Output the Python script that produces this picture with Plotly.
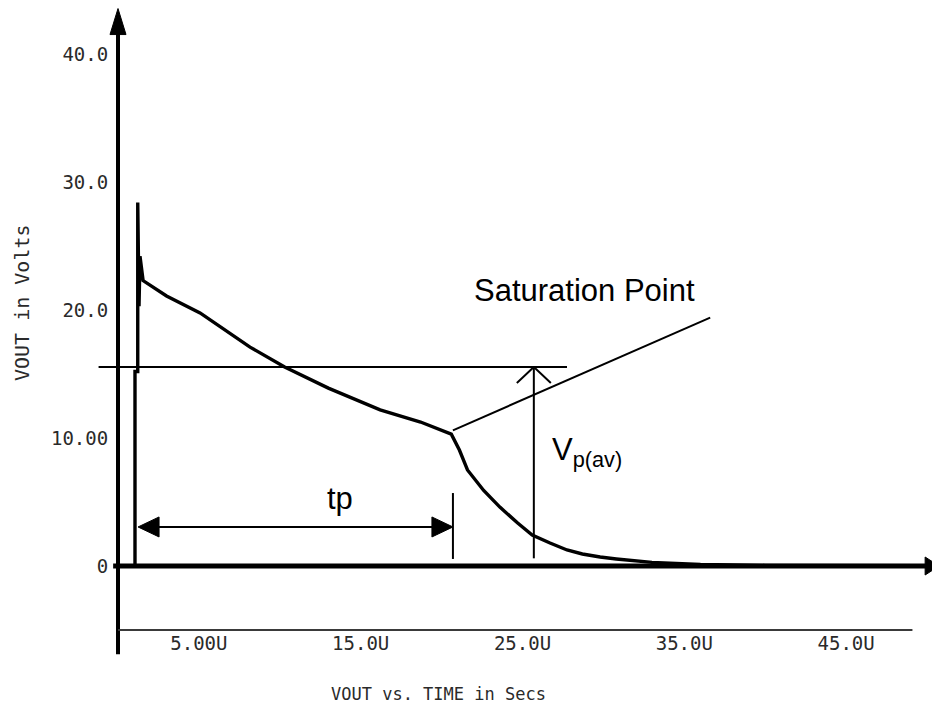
import plotly.graph_objects as go

# transient response (time in microseconds, volts)
TIME_US = [0.0, 1.05, 1.05, 1.22, 1.22, 1.30, 1.36, 1.55, 3.0, 5.07, 8.16, 10.3, 13.0,
           16.2, 18.7, 20.6, 21.1, 21.6, 22.6, 23.6, 24.7, 25.6, 26.7, 27.75, 28.7,
           29.8, 30.8, 31.8, 33.0, 36.0, 40.0, 50.0]
VOUT = [0.0, 0.0, 15.2, 15.2, 28.4, 20.3, 24.2, 22.3, 21.1, 19.77, 17.1, 15.55, 13.9,
        12.2, 11.25, 10.3, 9.06, 7.5, 5.9, 4.6, 3.36, 2.42, 1.8, 1.25, 0.94,
        0.7, 0.55, 0.4, 0.28, 0.12, 0.05, 0.02]

X_TICKS = [5, 15, 25, 35, 45]
X_TICK_LABELS = ["5.00U", "15.0U", "25.0U", "35.0U", "45.0U"]
Y_TICKS = [0, 10, 20, 30, 40]
Y_TICK_LABELS = ["0", "10.00", "20.0", "30.0", "40.0"]

# frame of the drawing
Y_AXIS_BOTTOM = -6.9
Y_AXIS_TIP = 43.55
X_AXIS_START = -0.3
X_AXIS_TIP = 50.75
BASELINE_V = -5.0
BASELINE_END = 49.1

# annotation geometry
VP_AV = 15.55
VP_LINE_START = -1.2
VP_LINE_END = 27.75
VP_ARROW_X = 25.7
VP_ARROW_BOTTOM = 0.6
SAT_POINT = (20.7, 10.6)
SAT_LINE_END = (36.6, 19.4)
TP_START = 1.24
TP_END = 20.7
TP_LEVEL = 3.05
TP_TICK = (0.55, 5.7)

# scale of the sheet: pixels per microsecond / per volt, origin in page pixels
PX_US = 16.18
PX_V = 12.8
ORIGIN_X = 118 - 8   # page body margin pushes the figure 8px right/down
ORIGIN_Y = 566 - 8
FIG_W, FIG_H = 940, 704

TEXT_FONT = dict(family="Liberation Sans, Arial", size=31, color="black")
MONO_FONT = dict(family="DejaVu Sans Mono", size=19, color="#2a2a2a")


def line_shape(x0, y0, x1, y1, width, color="black"):
    return dict(type="line", xref="x", yref="y", x0=x0, y0=y0, x1=x1, y1=y1,
                line=dict(color=color, width=width))


def arrow_head(x, y, direction, length, half):
    paths = {
        "up": f"M {-half},{-length} L {half},{-length} L 0,0 Z",
        "right": f"M {-length},{-half} L {-length},{half} L 0,0 Z",
        "left": f"M {length},{-half} L {length},{half} L 0,0 Z",
    }
    return dict(type="path", xref="x", yref="y", xsizemode="pixel", ysizemode="pixel",
                xanchor=x, yanchor=y, path=paths[direction],
                fillcolor="black", line=dict(color="black", width=1))


def open_head(x, y, dx, dy):
    return [
        dict(type="line", xref="x", yref="y", xsizemode="pixel", ysizemode="pixel",
             xanchor=x, yanchor=y, x0=0, y0=0, x1=sign * dx, y1=-dy,
             line=dict(color="black", width=2))
        for sign in (-1, 1)
    ]


def page_annotation(px, py, text, **kwargs):
    # px, py are page pixels; convert to paper fractions of the shifted figure
    return dict(xref="paper", yref="paper", x=(px - 8) / FIG_W, y=1 - (py - 8) / FIG_H,
                text=text, showarrow=False, xanchor="center", yanchor="middle", **kwargs)


def build_figure():
    fig = go.Figure()
    fig.add_trace(go.Scatter(x=TIME_US, y=VOUT, mode="lines",
                             line=dict(color="black", width=3.4), hoverinfo="skip"))

    shapes = [
        line_shape(0, Y_AXIS_BOTTOM, 0, Y_AXIS_TIP - 1.0, 4),
        arrow_head(0, Y_AXIS_TIP, "up", 26, 8),
        line_shape(X_AXIS_START, 0, X_AXIS_TIP - 0.5, 0, 5),
        arrow_head(X_AXIS_TIP, 0, "right", 14, 9),
        line_shape(0, BASELINE_V, BASELINE_END, BASELINE_V, 2, "#3a3a3a"),
        line_shape(VP_LINE_START, VP_AV, VP_LINE_END, VP_AV, 2),
        line_shape(VP_ARROW_X, VP_ARROW_BOTTOM, VP_ARROW_X, VP_AV, 2),
        line_shape(SAT_POINT[0], SAT_POINT[1], SAT_LINE_END[0], SAT_LINE_END[1], 2),
        line_shape(TP_START + 1.0, TP_LEVEL, TP_END - 1.0, TP_LEVEL, 2),
        arrow_head(TP_START, TP_LEVEL, "left", 21, 10),
        arrow_head(TP_END, TP_LEVEL, "right", 21, 10),
        line_shape(TP_END, TP_TICK[0], TP_END, TP_TICK[1], 2),
    ]
    shapes += open_head(VP_ARROW_X, VP_AV, 17, 16)

    annotations = [
        dict(x=28.86, y=21.56, text="Saturation Point", showarrow=False, font=TEXT_FONT),
        dict(x=13.72, y=5.3, text="tp", showarrow=False, font=TEXT_FONT),
        dict(x=26.7, y=8.9, text="V<sub>p(av)</sub>", showarrow=False, xanchor="left",
             yanchor="middle", font=TEXT_FONT),
        page_annotation(438, 694, "VOUT vs. TIME in Secs",
                        font=dict(family="DejaVu Sans Mono", size=17, color="#2a2a2a")),
        page_annotation(22, 303, "VOUT in Volts", textangle=-90, borderpad=0,
                        font=dict(family="DejaVu Sans Mono", size=20, color="#2a2a2a")),
    ]

    fig.update_layout(
        width=FIG_W, height=FIG_H,
        margin=dict(l=0, r=0, t=0, b=0),
        paper_bgcolor="white", plot_bgcolor="white",
        showlegend=False,
        shapes=shapes,
        annotations=annotations,
        xaxis=dict(range=[-ORIGIN_X / PX_US, (FIG_W - ORIGIN_X) / PX_US], domain=[0, 1],
                   anchor="free", position=(FIG_H - (630 - 8)) / FIG_H,
                   tickvals=X_TICKS, ticktext=X_TICK_LABELS, tickfont=MONO_FONT,
                   ticks="", showgrid=False, zeroline=False, showline=False,
                   fixedrange=True),
        yaxis=dict(range=[(ORIGIN_Y - FIG_H) / PX_V, ORIGIN_Y / PX_V], domain=[0, 1],
                   anchor="free", position=ORIGIN_X / FIG_W,
                   tickvals=Y_TICKS, ticktext=Y_TICK_LABELS, tickfont=MONO_FONT,
                   ticks="outside", ticklen=6, tickcolor="rgba(0,0,0,0)",
                   showgrid=False, zeroline=False, showline=False, fixedrange=True),
    )
    return fig


def main():
    fig = build_figure()
    fig.write_html("out.html")


if __name__ == "__main__":
    main()
